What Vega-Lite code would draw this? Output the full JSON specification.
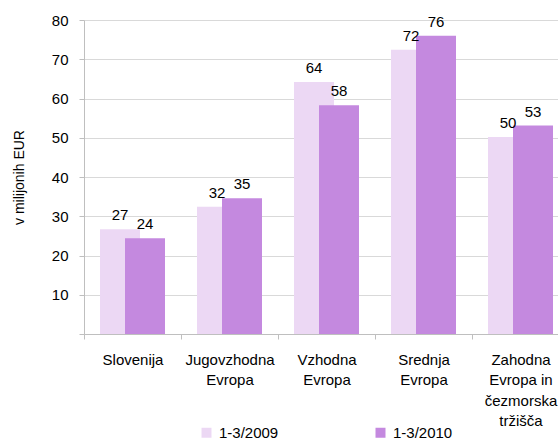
{
  "$schema": "https://vega.github.io/schema/vega-lite/v6.json",
  "width": 485,
  "height": 314,
  "autosize": "none",
  "padding": {"left": 84, "top": 20, "right": 0, "bottom": 109},
  "background": "white",
  "config": {
    "font": "Liberation Sans",
    "view": {"stroke": null},
    "axis": {
      "labelFont": "Liberation Sans",
      "titleFont": "Liberation Sans",
      "labelColor": "#000000",
      "titleColor": "#000000",
      "domainColor": "#bfbfbf",
      "tickColor": "#bfbfbf",
      "gridColor": "#d9d9d9"
    },
    "legend": {"labelFont": "Liberation Sans"}
  },
  "data": {
    "values": [
      {"regija": "Slovenija", "obdobje": "1-3/2009", "vrednost": 26.7},
      {"regija": "Slovenija", "obdobje": "1-3/2010", "vrednost": 24.4},
      {"regija": "Jugovzhodna Evropa", "obdobje": "1-3/2009", "vrednost": 32.4},
      {"regija": "Jugovzhodna Evropa", "obdobje": "1-3/2010", "vrednost": 34.6},
      {"regija": "Vzhodna Evropa", "obdobje": "1-3/2009", "vrednost": 64.2},
      {"regija": "Vzhodna Evropa", "obdobje": "1-3/2010", "vrednost": 58.3},
      {"regija": "Srednja Evropa", "obdobje": "1-3/2009", "vrednost": 72.4},
      {"regija": "Srednja Evropa", "obdobje": "1-3/2010", "vrednost": 76.0},
      {"regija": "Zahodna Evropa in čezmorska tržišča", "obdobje": "1-3/2009", "vrednost": 50.2},
      {"regija": "Zahodna Evropa in čezmorska tržišča", "obdobje": "1-3/2010", "vrednost": 53.1}
    ]
  },
  "encoding": {
    "x": {
      "field": "regija",
      "type": "nominal",
      "sort": null,
      "scale": {"paddingInner": 0, "paddingOuter": 0},
      "axis": {
        "title": null,
        "labelAngle": 0,
        "tickBand": "extent",
        "tickSize": 5,
        "labelFontSize": 15,
        "labelPadding": 13,
        "labelLineHeight": 20.5,
        "labelBaseline": "top",
        "labelLimit": 0,
        "labelExpr": "datum.label == 'Zahodna Evropa in čezmorska tržišča' ? ['Zahodna', 'Evropa in', 'čezmorska', 'tržišča'] : split(datum.label, ' ')"
      }
    },
    "y": {
      "field": "vrednost",
      "type": "quantitative",
      "scale": {"domain": [0, 80], "nice": false},
      "axis": {
        "title": "v milijonih EUR",
        "titleFontSize": 14,
        "titleFontWeight": "normal",
        "titlePadding": 25,
        "values": [0, 10, 20, 30, 40, 50, 60, 70, 80],
        "labelExpr": "datum.value == 0 ? '' : datum.label",
        "labelFontSize": 15,
        "labelPadding": 11,
        "tickSize": 5,
        "grid": true
      }
    }
  },
  "layer": [
    {
      "transform": [{"filter": "datum.obdobje == '1-3/2009'"}],
      "mark": {"type": "bar", "width": 40, "xOffset": -12.5},
      "encoding": {
        "color": {
          "field": "obdobje",
          "type": "nominal",
          "scale": {"domain": ["1-3/2009", "1-3/2010"], "range": ["#ecd8f4", "#c489df"]},
          "legend": {
            "title": null,
            "orient": "none",
            "direction": "horizontal",
            "legendX": 115,
            "legendY": 405,
            "columnPadding": 94,
            "symbolType": "square",
            "symbolSize": 100,
            "symbolStrokeWidth": 0,
            "labelFontSize": 15,
            "labelColor": "#000000",
            "labelOffset": 5
          }
        }
      }
    },
    {
      "transform": [{"filter": "datum.obdobje == '1-3/2010'"}],
      "mark": {"type": "bar", "width": 40, "xOffset": 12.5},
      "encoding": {
        "color": {"field": "obdobje", "type": "nominal"}
      }
    },
    {
      "transform": [{"filter": "datum.obdobje == '1-3/2009'"}],
      "mark": {"type": "text", "xOffset": -12.5, "dy": -9, "baseline": "alphabetic", "fontSize": 15, "color": "#000000"},
      "encoding": {"text": {"field": "vrednost", "type": "quantitative", "format": ".0f"}}
    },
    {
      "transform": [{"filter": "datum.obdobje == '1-3/2010'"}],
      "mark": {"type": "text", "xOffset": 12.5, "dy": -9, "baseline": "alphabetic", "fontSize": 15, "color": "#000000"},
      "encoding": {"text": {"field": "vrednost", "type": "quantitative", "format": ".0f"}}
    }
  ]
}
